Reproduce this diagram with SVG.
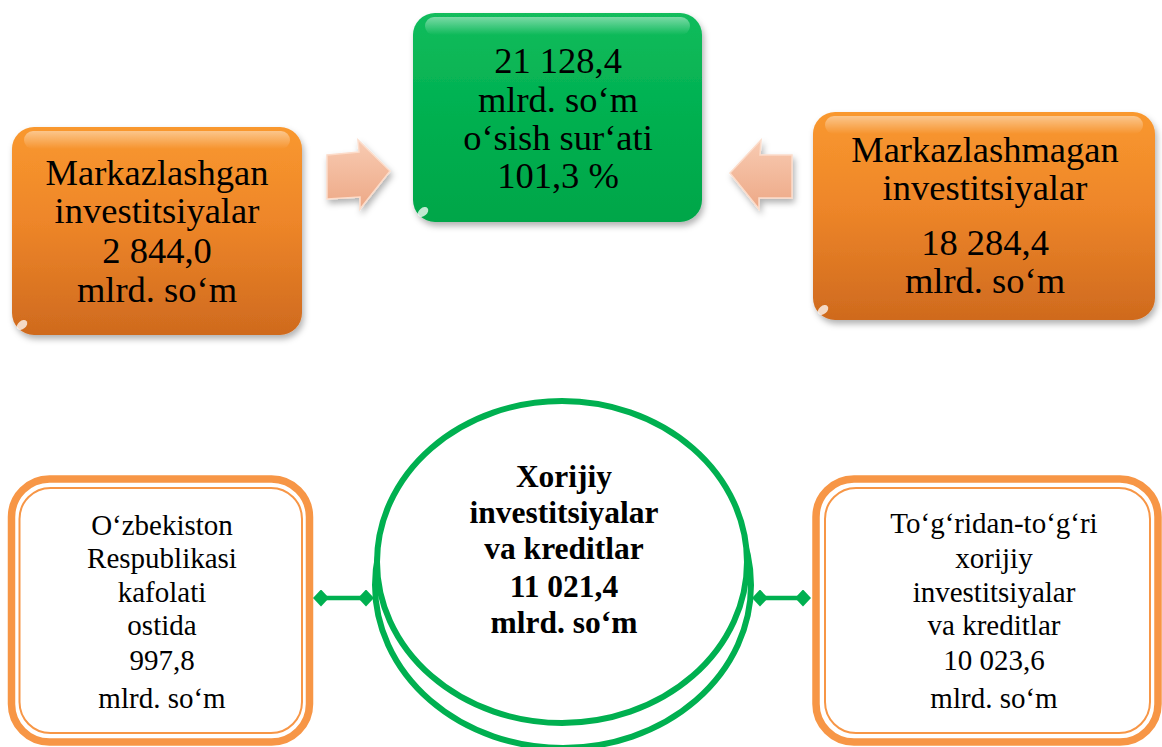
<svg xmlns="http://www.w3.org/2000/svg" width="1162" height="747" viewBox="0 0 1162 747">
  <defs>
    <linearGradient id="gOrange" x1="0" y1="0" x2="0" y2="1">
      <stop offset="0" stop-color="#F9982F"/>
      <stop offset="0.45" stop-color="#EE8629"/>
      <stop offset="1" stop-color="#CF6A1E"/>
    </linearGradient>
    <linearGradient id="gGreen" x1="0" y1="0" x2="0" y2="1">
      <stop offset="0" stop-color="#12BC5C"/>
      <stop offset="0.5" stop-color="#00B050"/>
      <stop offset="1" stop-color="#00A649"/>
    </linearGradient>
    <linearGradient id="gGloss" x1="0" y1="0" x2="0" y2="1">
      <stop offset="0" stop-color="#FFFFFF" stop-opacity="0.45"/>
      <stop offset="1" stop-color="#FFFFFF" stop-opacity="0"/>
    </linearGradient>
    <linearGradient id="gArrow" x1="0" y1="0" x2="0" y2="1">
      <stop offset="0" stop-color="#F8CBB2"/>
      <stop offset="1" stop-color="#EDA886"/>
    </linearGradient>
    <filter id="shadow" x="-10%" y="-10%" width="125%" height="130%">
      <feDropShadow dx="2" dy="4" stdDeviation="3" flood-color="#000" flood-opacity="0.3"/>
    </filter>
    <marker id="diamond" viewBox="-8 -8 16 16" markerWidth="16" markerHeight="17" markerUnits="userSpaceOnUse" refX="0" refY="0" orient="auto">
      <path d="M-8 0 L0 -8.5 L8 0 L0 8.5 Z" fill="#00B050"/>
    </marker>
  </defs>
  <style>
    .t { font-family: "Liberation Serif", "Times New Roman", serif; fill: #000; text-anchor: middle; }
    .top { font-size: 36.5px; }
    .bot { font-size: 29px; }
    .bold { font-size: 31.5px; font-weight: bold; }
    .thick { fill: #FFFFFF; stroke: #F79646; stroke-width: 7.5; }
    .thin { fill: none; stroke: #F79646; stroke-width: 2; }
    .gloss { fill: url(#gGloss); }
    .spot { fill: #FFFFFF; opacity: 0.75; }
    .conn { stroke: #00B050; stroke-width: 4.5; fill: none; }
    .arrow { fill: url(#gArrow); stroke: #FCDCCA; stroke-width: 1.5; filter: url(#shadow); }
  </style>

  <g id="node-markazlashgan">
    <rect x="12" y="127" width="290" height="208" rx="22" fill="url(#gOrange)" filter="url(#shadow)"/>
    <rect x="24" y="131" width="266" height="18" rx="9" class="gloss"/>
    <ellipse cx="22" cy="325" rx="6" ry="4" class="spot" transform="rotate(-40 22 325)"/>
    <text class="t top" x="157" y="185">Markazlashgan</text>
    <text class="t top" x="157" y="223">investitsiyalar</text>
    <text class="t top" x="157" y="263">2 844,0</text>
    <text class="t top" x="157" y="302">mlrd. so‘m</text>
  </g>

  <g id="node-jami">
    <rect x="413" y="13" width="289" height="209" rx="22" fill="url(#gGreen)" filter="url(#shadow)"/>
    <rect x="425" y="17" width="265" height="18" rx="9" class="gloss"/>
    <ellipse cx="423" cy="212" rx="6" ry="4" class="spot" transform="rotate(-40 423 212)"/>
    <text class="t top" x="558" y="73">21 128,4</text>
    <text class="t top" x="558" y="112">mlrd. so‘m</text>
    <text class="t top" x="558" y="150">o‘sish sur‘ati</text>
    <text class="t top" x="558" y="188">101,3 %</text>
  </g>

  <g id="node-markazlashmagan">
    <rect x="813" y="112" width="342" height="208" rx="22" fill="url(#gOrange)" filter="url(#shadow)"/>
    <rect x="825" y="116" width="318" height="18" rx="9" class="gloss"/>
    <ellipse cx="823" cy="310" rx="6" ry="4" class="spot" transform="rotate(-40 823 310)"/>
    <text class="t top" x="985" y="162">Markazlashmagan</text>
    <text class="t top" x="985" y="200">investitsiyalar</text>
    <text class="t top" x="985" y="255">18 284,4</text>
    <text class="t top" x="985" y="293">mlrd. so‘m</text>
  </g>

  <g id="node-kafolat">
    <rect x="11.5" y="479" width="298" height="263" rx="38" class="thick"/>
    <rect x="19.5" y="488" width="282.5" height="245" rx="31" class="thin"/>
    <text class="t bot" x="162" y="535">O‘zbekiston</text>
    <text class="t bot" x="162" y="568">Respublikasi</text>
    <text class="t bot" x="162" y="602">kafolati</text>
    <text class="t bot" x="162" y="635">ostida</text>
    <text class="t bot" x="162" y="670">997,8</text>
    <text class="t bot" x="162" y="708">mlrd. so‘m</text>
  </g>

  <g id="node-xorijiy">
    <ellipse cx="563" cy="585" rx="188" ry="163" fill="#FFFFFF" stroke="#00B050" stroke-width="6"/>
    <ellipse cx="562" cy="562" rx="185" ry="161" fill="#FFFFFF" stroke="#00B050" stroke-width="6"/>
    <text class="t bold" x="564" y="487">Xorijiy</text>
    <text class="t bold" x="564" y="523">investitsiyalar</text>
    <text class="t bold" x="564" y="559">va kreditlar</text>
    <text class="t bold" x="564" y="597">11 021,4</text>
    <text class="t bold" x="564" y="633">mlrd. so‘m</text>
  </g>

  <g id="node-togridan">
    <rect x="816" y="479" width="342" height="263" rx="38" class="thick"/>
    <rect x="825" y="488" width="325" height="245" rx="31" class="thin"/>
    <text class="t bot" x="994" y="533">To‘g‘ridan-to‘g‘ri</text>
    <text class="t bot" x="994" y="568">xorijiy</text>
    <text class="t bot" x="994" y="602">investitsiyalar</text>
    <text class="t bot" x="994" y="635">va kreditlar</text>
    <text class="t bot" x="994" y="670">10 023,6</text>
    <text class="t bot" x="994" y="708">mlrd. so‘m</text>
  </g>

  <g id="connectors">
    <path class="arrow" d="M327 155 L359 152 L358 140 L390 171 L360 209 L360 197 L327 199 Z"/>
    <path class="arrow" d="M792 155 L760 155 L761 140 L730 173 L759 209 L759 198 L792 198 Z"/>
    <line class="conn" x1="321" y1="598" x2="366" y2="598" marker-start="url(#diamond)" marker-end="url(#diamond)"/>
    <line class="conn" x1="760" y1="598" x2="803" y2="598" marker-start="url(#diamond)" marker-end="url(#diamond)"/>
  </g>
</svg>
